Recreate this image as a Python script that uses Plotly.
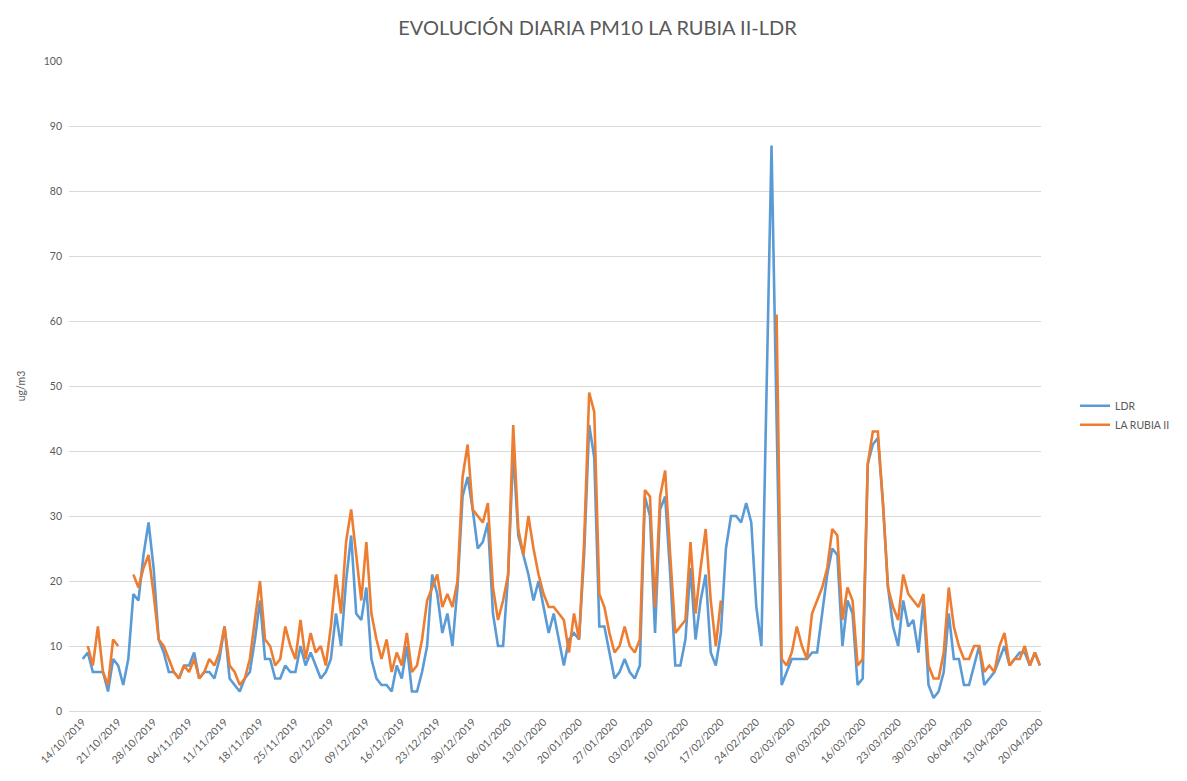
import pandas as pd
import plotly.graph_objects as go

# Datos diarios PM10 (ug/m3), 14/10/2019 - 20/04/2020
fechas = pd.date_range("2019-10-14", "2020-04-20", freq="D")

ldr = [
    8, 9, 6, 6, 6, 3, 8, 7, 4, 8,
    18, 17, 24, 29, 22, 11, 9, 6, 6, 5,
    7, 7, 9, 5, 6, 6, 5, 8, 13, 5,
    4, 3, 5, 6, 11, 17, 8, 8, 5, 5,
    7, 6, 6, 10, 7, 9, 7, 5, 6, 8,
    15, 10, 20, 27, 15, 14, 19, 8, 5, 4,
    4, 3, 7, 5, 10, 3, 3, 6, 10, 21,
    18, 12, 15, 10, 19, 33, 36, 31, 25, 26,
    29, 15, 10, 10, 21, 40, 27, 24, 21, 17,
    20, 16, 12, 15, 11, 7, 11, 12, 11, 24,
    44, 39, 13, 13, 9, 5, 6, 8, 6, 5,
    7, 33, 30, 12, 31, 33, 21, 7, 7, 11,
    22, 11, 17, 21, 9, 7, 12, 25, 30, 30,
    29, 32, 29, 16, 10, 48, 87, 45, 4, 6,
    8, 8, 8, 8, 9, 9, 15, 21, 25, 24,
    10, 17, 15, 4, 5, 38, 41, 42, 32, 19,
    13, 10, 17, 13, 14, 9, 17, 4, 2, 3,
    6, 15, 8, 8, 4, 4, 7, 10, 4, 5,
    6, 8, 10, 7, 8, 9, 9, 7, 9, 7,
]

la_rubia = [
    None, 10, 7, 13, 6, 4, 11, 10, None, None,
    21, 19, 22, 24, 18, 11, 10, 8, 6, 5,
    7, 6, 8, 5, 6, 8, 7, 9, 13, 7,
    6, 4, 5, 8, 14, 20, 11, 10, 7, 8,
    13, 10, 8, 14, 8, 12, 9, 10, 7, 13,
    21, 15, 26, 31, 24, 17, 26, 15, 11, 8,
    11, 6, 9, 7, 12, 6, 7, 11, 17, 19,
    21, 16, 18, 16, 20, 36, 41, 31, 30, 29,
    32, 19, 14, 17, 21, 44, 28, 24, 30, 25,
    21, 18, 16, 16, 15, 14, 9, 15, 11, 26,
    49, 46, 18, 16, 12, 9, 10, 13, 10, 9,
    11, 34, 33, 16, 33, 37, 24, 12, 13, 14,
    26, 15, 22, 28, 17, 10, 17, None, None, None,
    None, None, None, None, None, None, None, 61, 8, 7,
    9, 13, 10, 8, 15, 17, 19, 22, 28, 27,
    14, 19, 17, 7, 8, 38, 43, 43, 32, 19,
    16, 14, 21, 18, 17, 16, 18, 7, 5, 5,
    9, 19, 13, 10, 8, 8, 10, 10, 6, 7,
    6, 10, 12, 7, 8, 8, 10, 7, 9, 7,
]

gris = "#595959"
fuente = "Lato"

fig = go.Figure()
fig.add_scatter(x=fechas, y=ldr, mode="lines", name="LDR",
                line=dict(color="#5B9BD5", width=2.6))
fig.add_scatter(x=fechas, y=la_rubia, mode="lines", name="LA RUBIA II",
                line=dict(color="#ED7D31", width=2.6))

x_ini = fechas[0] - pd.Timedelta(hours=65)
x_fin = fechas[-1] + pd.Timedelta(hours=5)

# la página añade 8 px de margen al cuerpo
fig.update_layout(
    width=1179, height=773,
    margin=dict(l=54, r=140, t=53, b=70),
    paper_bgcolor="white", plot_bgcolor="white",
    font=dict(family=fuente, color=gris, size=11),
    title=dict(text="EVOLUCIÓN DIARIA PM10 LA RUBIA II-LDR",
               x=0.5, xref="container", xanchor="center",
               y=1 - 20 / 773, yanchor="middle",
               font=dict(family=fuente, size=20, color=gris)),
    legend=dict(x=1.035, y=0.455, xanchor="left", yanchor="middle",
                font=dict(family=fuente, size=10.5, color=gris),
                bgcolor="rgba(0,0,0,0)", tracegroupgap=2),
    showlegend=True,
)
fig.update_xaxes(
    type="date", range=[x_ini, x_fin],
    tick0="2019-10-14", dtick=7 * 24 * 3600 * 1000,
    tickformat="%d/%m/%Y", tickangle=-45,
    tickfont=dict(family=fuente, size=10.5, color=gris),
    showgrid=False, showline=True, linecolor="#d9d9d9", linewidth=1,
    ticks="", zeroline=False,
)
fig.update_yaxes(
    range=[0, 100], dtick=10,
    showgrid=True, gridcolor="#d9d9d9", gridwidth=1,
    zeroline=False, showline=False, ticks="",
    ticklabelstandoff=6,
    tickfont=dict(family=fuente, size=10.5, color=gris),
    title=dict(text="ug/m3", standoff=16,
               font=dict(family=fuente, size=10.5, color=gris)),
)

fig.write_html("out.html")
